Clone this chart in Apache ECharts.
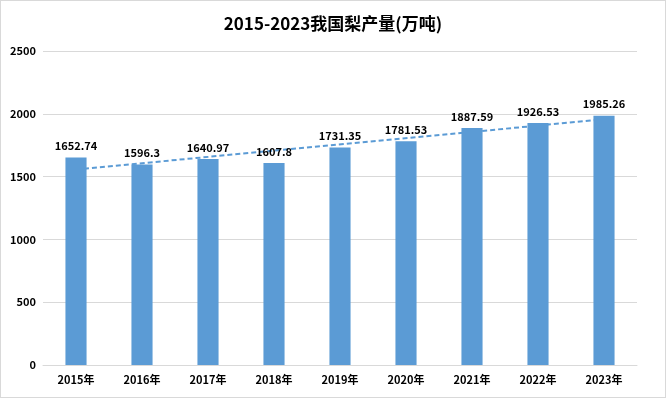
<!DOCTYPE html>
<html>
<head>
<meta charset="utf-8">
<script src="https://cdn.jsdelivr.net/npm/echarts@6/dist/echarts.min.js"></script>
<style>
  html, body { margin: 0; padding: 0; background: #fff; }
  #chart { width: 666px; height: 398px; box-sizing: border-box; border: 1px solid #d9d9d9; }
</style>
</head>
<body>
<div id="chart"></div>
<script>
// 数据
const years = ['2015年', '2016年', '2017年', '2018年', '2019年', '2020年', '2021年', '2022年', '2023年'];
const output = [1652.74, 1596.3, 1640.97, 1607.8, 1731.35, 1781.53, 1887.59, 1926.53, 1985.26];
// 趋势线两端
const trend = [1557, null, null, null, null, null, null, null, 1956];

const font = '"Noto Sans CJK SC", "Liberation Sans", sans-serif';

let myecharts = echarts.init(document.getElementById('chart'));
myecharts.setOption({
  animation: false,
  textStyle: { fontFamily: font },
  title: {
    text: '2015-2023我国梨产量(万吨)',
    left: 'center',
    top: 9,
    textStyle: {
      color: '#000',
      fontSize: 17,
      fontWeight: 'bold',
      fontFamily: font,
    },
  },
  grid: {
    left: 42,
    right: 28,
    top: 50,
    bottom: 32,
  },
  xAxis: {
    type: 'category',
    data: years,
    axisTick: { show: false },
    axisLine: { lineStyle: { color: '#d9d9d9' } },
    axisLabel: {
      color: '#000',
      fontSize: 11,
      fontWeight: 'bold',
      margin: 9,
    },
  },
  yAxis: {
    type: 'value',
    min: 0,
    max: 2500,
    interval: 500,
    axisLine: { show: false },
    axisTick: { show: false },
    splitLine: { lineStyle: { color: '#d9d9d9' } },
    axisLabel: {
      color: '#000',
      fontSize: 11,
      fontWeight: 'bold',
      margin: 7,
      formatter: (v) => String(v),
    },
  },
  series: [
    {
      type: 'line',
      data: trend,
      connectNulls: true,
      symbol: 'none',
      z: 1,
      lineStyle: {
        color: '#5b9bd5',
        width: 2,
        type: [5, 3],
      },
    },
    {
      type: 'bar',
      data: output,
      barWidth: '32%',
      z: 2,
      itemStyle: { color: '#5b9bd5' },
      label: {
        show: true,
        position: 'top',
        distance: 6,
        color: '#000',
        fontSize: 11,
        fontWeight: 'bold',
      },
    },
  ],
});
</script>
</body>
</html>
